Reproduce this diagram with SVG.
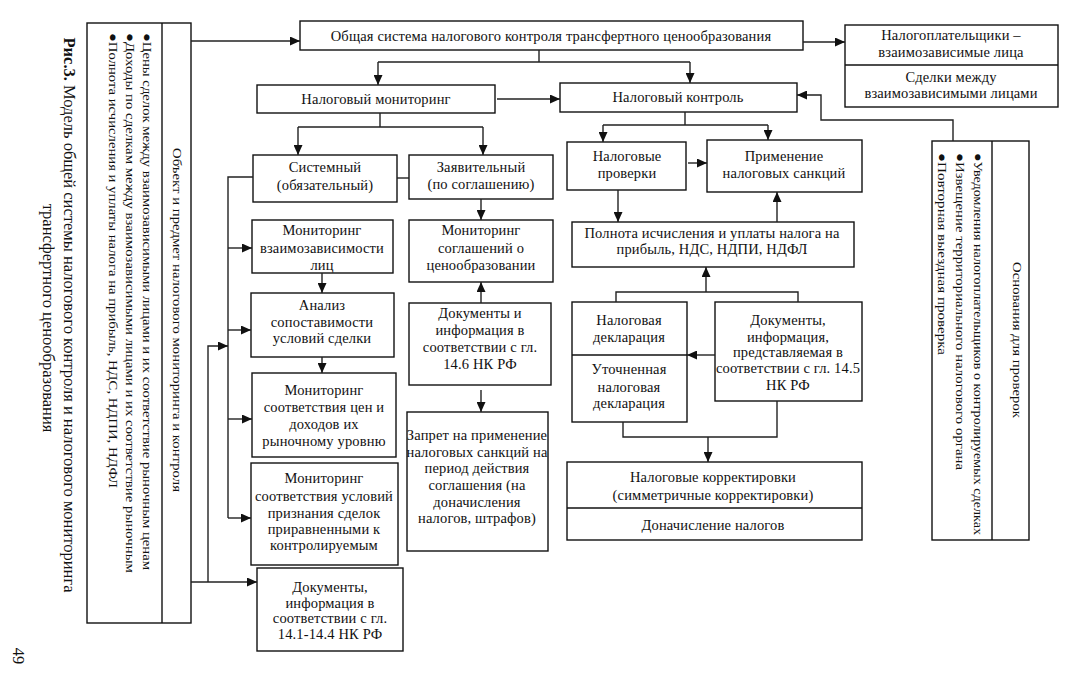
<svg xmlns="http://www.w3.org/2000/svg" width="1066" height="680" viewBox="0 0 1066 680">
<defs>
<marker id="ah" markerUnits="userSpaceOnUse" markerWidth="11" markerHeight="9" refX="10" refY="4.5" orient="auto"><path d="M0,0 L10,4.5 L0,9 z" fill="#111"/></marker>
<style>
.b{fill:#fff;stroke:#111;stroke-width:1.4}
.t{font-family:"Liberation Serif","Times New Roman",serif;font-size:14.5px;letter-spacing:0.15px;fill:#111;text-anchor:middle}
.s{font-family:"Liberation Serif","Times New Roman",serif;font-size:13px;fill:#111}
.c{fill:none;stroke:#222;stroke-width:1.4}
.a{fill:none;stroke:#222;stroke-width:1.4;marker-end:url(#ah)}
.cap{font-family:"Liberation Serif","Times New Roman",serif;font-size:16.5px;fill:#111;text-anchor:middle}
</style>
</defs>
<rect width="1066" height="680" fill="#fff"/>

<g id="caption">
<text class="cap" transform="translate(64,315) rotate(90)"><tspan font-weight="bold">Рис.3.</tspan> Модель общей системы налогового контроля и налогового мониторинга</text>
<text class="cap" transform="translate(43,318) rotate(90)">трансфертного ценообразования</text>
<text class="cap" font-size="14" transform="translate(13,656) rotate(90)">49</text>
</g>

<g id="object-box">
<rect class="b" x="87" y="23" width="104" height="600"/>
<line x1="162" y1="23" x2="162" y2="623" stroke="#111" stroke-width="1.4"/>
<text class="s" text-anchor="middle" transform="translate(173,320) rotate(90)" textLength="344" lengthAdjust="spacingAndGlyphs">Объект и предмет налогового мониторинга и контроля</text>
<text class="s" transform="translate(143,33) rotate(90)" textLength="537" lengthAdjust="spacingAndGlyphs">●Цены сделок между взаимозависимыми лицами и их соответствие рыночным ценам</text>
<text class="s" transform="translate(126,33) rotate(90)" textLength="540" lengthAdjust="spacingAndGlyphs">●Доходы по сделкам между взаимозависимыми лицами и их соответствие рыночным</text>
<text class="s" transform="translate(109,33) rotate(90)" textLength="455" lengthAdjust="spacingAndGlyphs">●Полнота исчисления и уплаты налога на прибыль, НДС, НДПИ, НДФЛ</text>
</g>

<g id="general-system">
<rect class="b" x="300" y="21" width="503" height="29"/>
<text class="t" x="551" y="41">Общая система налогового контроля трансфертного ценообразования</text>
</g>

<g id="taxpayers">
<rect class="b" x="845" y="25" width="213" height="82"/>
<line x1="845" y1="65" x2="1058" y2="65" stroke="#111" stroke-width="1.4"/>
<text class="t" x="951" y="40">Налогоплательщики –</text>
<text class="t" x="951" y="57">взаимозависимые лица</text>
<text class="t" x="951" y="82">Сделки между</text>
<text class="t" x="951" y="98">взаимозависимыми лицами</text>
</g>

<g id="tax-monitoring">
<rect class="b" x="257" y="85" width="238" height="28"/>
<text class="t" x="376" y="104">Налоговый мониторинг</text>
</g>

<g id="tax-control">
<rect class="b" x="560" y="83" width="237" height="29"/>
<text class="t" x="678" y="102">Налоговый контроль</text>
</g>

<g id="systemic">
<rect class="b" x="253" y="155" width="144" height="47"/>
<text class="t" x="325" y="172">Системный</text>
<text class="t" x="325" y="190">(обязательный)</text>
</g>

<g id="declarative">
<rect class="b" x="409" y="155" width="144" height="44"/>
<text class="t" x="481" y="172">Заявительный</text>
<text class="t" x="481" y="189">(по соглашению)</text>
</g>

<g id="mon-interdep">
<rect class="b" x="252" y="220" width="141" height="53"/>
<text class="t" x="322" y="235">Мониторинг</text>
<text class="t" x="322" y="253">взаимозависимости</text>
<text class="t" x="322" y="270">лиц</text>
</g>

<g id="mon-agreements">
<rect class="b" x="409" y="220" width="144" height="62"/>
<text class="t" x="481" y="235">Мониторинг</text>
<text class="t" x="481" y="253">соглашений о</text>
<text class="t" x="481" y="270">ценообразовании</text>
</g>

<g id="analysis">
<rect class="b" x="251" y="293" width="143" height="64"/>
<text class="t" x="322" y="310">Анализ</text>
<text class="t" x="322" y="327">сопоставимости</text>
<text class="t" x="322" y="343">условий сделки</text>
</g>

<g id="docs-14-6">
<rect class="b" x="409" y="303" width="142" height="82"/>
<text class="t" x="480" y="318">Документы и</text>
<text class="t" x="480" y="335">информация в</text>
<text class="t" x="480" y="352">соответствии с гл.</text>
<text class="t" x="480" y="369">14.6 НК РФ</text>
</g>

<g id="mon-prices">
<rect class="b" x="252" y="373" width="144" height="84"/>
<text class="t" x="324" y="395">Мониторинг</text>
<text class="t" x="324" y="412">соответствия цен и</text>
<text class="t" x="324" y="429">доходов их</text>
<text class="t" x="324" y="446">рыночному уровню</text>
</g>

<g id="ban">
<rect class="b" x="407" y="412" width="141" height="139"/>
<text class="t" x="477" y="440">Запрет на применение</text>
<text class="t" x="477" y="457">налоговых санкций на</text>
<text class="t" x="477" y="473">период действия</text>
<text class="t" x="477" y="490">соглашения (на</text>
<text class="t" x="477" y="507">доначисления</text>
<text class="t" x="477" y="523">налогов, штрафов)</text>
</g>

<g id="mon-conditions">
<rect class="b" x="251" y="463" width="147" height="102"/>
<text class="t" x="324" y="483">Мониторинг</text>
<text class="t" x="324" y="501">соответствия условий</text>
<text class="t" x="324" y="518">признания сделок</text>
<text class="t" x="324" y="534">приравненными к</text>
<text class="t" x="324" y="550">контролируемым</text>
</g>

<g id="docs-14-1">
<rect class="b" x="257" y="568" width="146" height="83"/>
<text class="t" x="330" y="592">Документы,</text>
<text class="t" x="330" y="608">информация в</text>
<text class="t" x="330" y="623">соответствии с гл.</text>
<text class="t" x="330" y="639">14.1-14.4 НК РФ</text>
</g>

<g id="inspections">
<rect class="b" x="567" y="142" width="119" height="48"/>
<text class="t" x="627" y="161">Налоговые</text>
<text class="t" x="627" y="178">проверки</text>
</g>

<g id="sanctions">
<rect class="b" x="707" y="140" width="155" height="52"/>
<text class="t" x="784" y="161">Применение</text>
<text class="t" x="784" y="178">налоговых санкций</text>
</g>

<g id="completeness">
<rect class="b" x="572" y="222" width="282" height="45"/>
<text class="t" x="712" y="238">Полнота исчисления и уплаты налога на</text>
<text class="t" x="712" y="254">прибыль, НДС, НДПИ, НДФЛ</text>
</g>

<g id="declaration">
<rect class="b" x="572" y="302" width="115" height="120"/>
<line x1="572" y1="355" x2="687" y2="355" stroke="#111" stroke-width="1.4"/>
<text class="t" x="629" y="325">Налоговая</text>
<text class="t" x="629" y="342">декларация</text>
<text class="t" x="629" y="374">Уточненная</text>
<text class="t" x="629" y="392">налоговая</text>
<text class="t" x="629" y="408">декларация</text>
</g>

<g id="docs-14-5">
<rect class="b" x="715" y="302" width="147" height="99"/>
<text class="t" x="788" y="325">Документы,</text>
<text class="t" x="788" y="342">информация,</text>
<text class="t" x="788" y="357">представляемая в</text>
<text class="t" x="788" y="373">соответствии с гл. 14.5</text>
<text class="t" x="788" y="390">НК РФ</text>
</g>

<g id="adjustments">
<rect class="b" x="567" y="462" width="295" height="78"/>
<line x1="567" y1="508" x2="862" y2="508" stroke="#111" stroke-width="1.4"/>
<text class="t" x="713" y="482">Налоговые корректировки</text>
<text class="t" x="713" y="500">(симметричные корректировки)</text>
<text class="t" x="713" y="530">Доначисление налогов</text>
</g>

<g id="grounds">
<rect class="b" x="932" y="141" width="97" height="399"/>
<line x1="992" y1="141" x2="992" y2="540" stroke="#111" stroke-width="1.4"/>
<text class="s" text-anchor="middle" transform="translate(1013,340) rotate(90)" textLength="156" lengthAdjust="spacingAndGlyphs">Основания для проверок</text>
<text class="s" transform="translate(974,153) rotate(90)" textLength="382" lengthAdjust="spacingAndGlyphs">●Уведомления налогоплательщиков о контролируемых сделках</text>
<text class="s" transform="translate(956,153) rotate(90)" textLength="317" lengthAdjust="spacingAndGlyphs">●Извещение территориального налогового органа</text>
<text class="s" transform="translate(938,153) rotate(90)" textLength="202" lengthAdjust="spacingAndGlyphs">●Повторная выездная проверка</text>
</g>

<g id="connectors">
<path class="a" d="M191,41 H300"/>
<path class="a" d="M803,42 H845"/>
<path class="c" d="M539,50 V62 M378,62 H690"/>
<path class="a" d="M378,62 V85"/>
<path class="a" d="M690,62 V83"/>
<path class="a" d="M497,99 H560"/>
<path class="c" d="M380,113 V127 M298,127 H483"/>
<path class="a" d="M298,127 V155"/>
<path class="a" d="M483,127 V155"/>
<path class="c" d="M397,178 H409"/>
<path class="a" d="M481,199 V220"/>
<path class="a" d="M481,303 V282"/>
<path class="a" d="M481,390 V412"/>
<path class="a" d="M322,273 V293"/>
<path class="a" d="M322,357 V373"/>
<path class="c" d="M253,177 H228 V518"/>
<path class="a" d="M228,248 H252"/>
<path class="a" d="M228,330 H251"/>
<path class="a" d="M228,419 H252"/>
<path class="a" d="M228,518 H251"/>
<path class="a" d="M191,582 H257"/>
<path class="a" d="M208,582 V346 H228"/>
<path class="c" d="M685,112 V125 M603,125 H768"/>
<path class="a" d="M603,125 V142"/>
<path class="a" d="M768,125 V140"/>
<path class="a" d="M688,163 H707"/>
<path class="a" d="M618,190 V222"/>
<path class="a" d="M777,222 V192"/>
<path class="c" d="M616,302 V292 H798 V302"/>
<path class="a" d="M706,292 V267"/>
<path class="a" d="M715,355 H687"/>
<path class="c" d="M623,422 V437 H777 V401"/>
<path class="a" d="M708,437 V462"/>
<path class="a" d="M953,141 V120 H821 V95 H797"/>
</g>
</svg>
